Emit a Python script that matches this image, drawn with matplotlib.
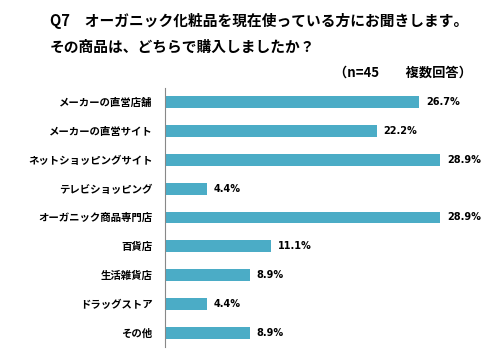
import matplotlib.pyplot as plt

plt.rcParams['font.family'] = ['Noto Sans CJK JP', 'DejaVu Sans']

categories = ['メーカーの直営店舗', 'メーカーの直営サイト', 'ネットショッピングサイト',
              'テレビショッピング', 'オーガニック商品専門店', '百貨店', '生活雑貨店',
              'ドラッグストア', 'その他']
values = [26.7, 22.2, 28.9, 4.4, 28.9, 11.1, 8.9, 4.4, 8.9]

fig = plt.figure(figsize=(4.99, 3.53), dpi=100)
ax = fig.add_axes([0.3307, 0.017, 0.573, 0.734])

pos = list(range(len(categories)))
ax.barh(pos, values, height=0.41, color='#4BACC6')
for p, v in zip(pos, values):
    ax.text(v + 0.7, p, '%.1f%%' % v, va='center', ha='left',
            fontsize=7, fontweight='bold', fontfamily=['Liberation Sans Narrow', 'DejaVu Sans'])

ax.set_xlim(0, 30)
ax.set_ylim(len(categories) - 0.5, -0.5)
ax.set_yticks(pos)
ax.set_yticklabels(categories, fontsize=7.5, fontweight='bold')
ax.tick_params(axis='y', length=0, pad=9)
ax.set_xticks([])
for s in ['top', 'right', 'bottom']:
    ax.spines[s].set_visible(False)
ax.spines['left'].set_color('#888888')

fig.text(0.1, 0.941, 'Q7　オーガニック化粧品を現在使っている方にお聞きします。',
         fontsize=10.6, fontweight='bold', va='center')
fig.text(0.1, 0.868, 'その商品は、どちらで購入しましたか？',
         fontsize=10.6, fontweight='bold', va='center')
fig.text(0.946, 0.793, '（n=45　　複数回答）', fontsize=9.5, fontweight='bold',
         va='center', ha='right')

fig.savefig('out.png', dpi=100)
